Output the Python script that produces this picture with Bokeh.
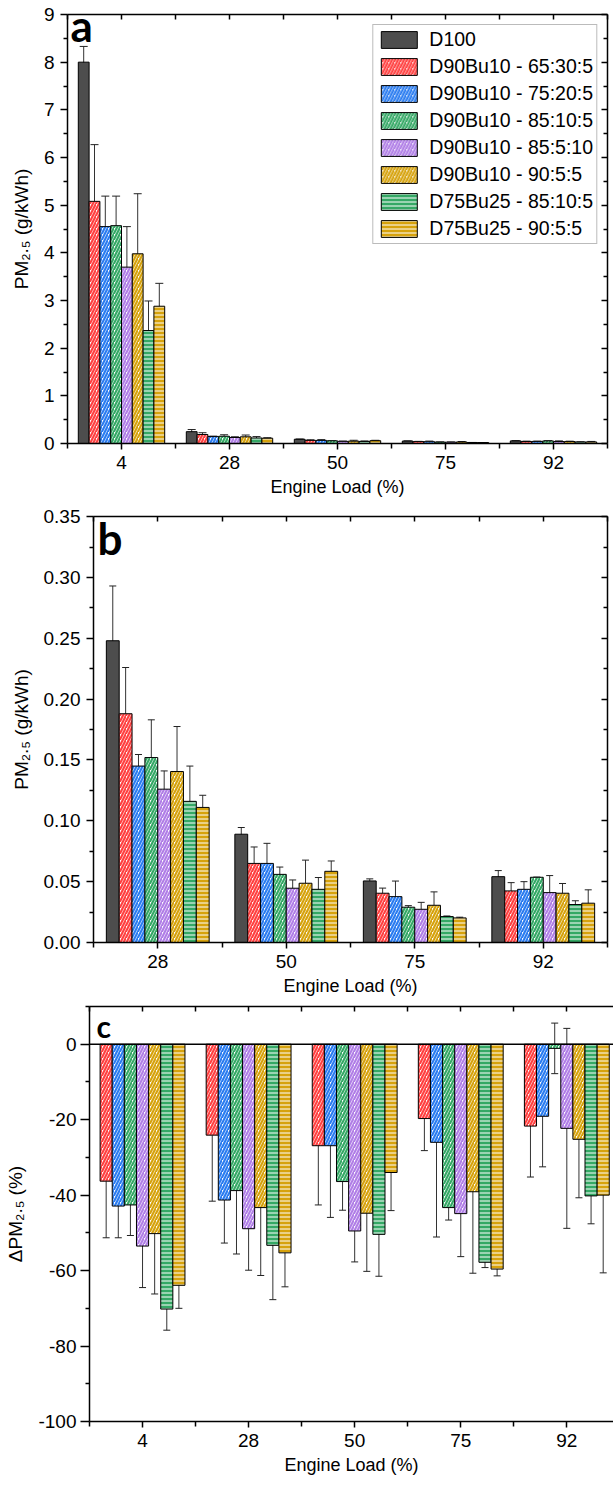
from bokeh.plotting import figure
from bokeh.models import (ColumnDataSource, Whisker, TeeHead, FixedTicker,
                          LinearAxis, Range1d, Label, Span, NumeralTickFormatter)
from bokeh.layouts import column
from bokeh.embed import file_html
from bokeh.resources import INLINE

# ---------------- data ----------------
loads = ["4", "28", "50", "75", "92"]
series = ["D100", "D90Bu10 - 65:30:5", "D90Bu10 - 75:20:5", "D90Bu10 - 85:10:5",
          "D90Bu10 - 85:5:10", "D90Bu10 - 90:5:5", "D75Bu25 - 85:10:5", "D75Bu25 - 90:5:5"]

# PM2.5 (g/kWh) at loads 4, 28, 50, 75, 92
pm_d100 = [8.00, 0.248, 0.089, 0.0506, 0.0541]
pm_d100_err = [0.33, 0.045, 0.0055, 0.0017, 0.005]
pm_65_30_5 = [5.08, 0.188, 0.065, 0.0405, 0.0424]
pm_65_30_5_err = [1.19, 0.038, 0.0135, 0.0042, 0.0068]
pm_75_20_5 = [4.55, 0.145, 0.065, 0.0377, 0.0437]
pm_75_20_5_err = [0.64, 0.0095, 0.0165, 0.0128, 0.0063]
pm_85_10_5 = [4.57, 0.152, 0.056, 0.029, 0.0536]
pm_85_10_5_err = [0.62, 0.031, 0.006, 0.0013, 0.0]
pm_85_5_10 = [3.70, 0.126, 0.0446, 0.0273, 0.041]
pm_85_5_10_err = [0.85, 0.015, 0.0068, 0.0057, 0.014]
pm_90_5_5 = [3.98, 0.1405, 0.0487, 0.0306, 0.0405]
pm_90_5_5_err = [1.26, 0.037, 0.019, 0.011, 0.008]
pm_bu25_85_10_5 = [2.37, 0.116, 0.0437, 0.0213, 0.0312]
pm_bu25_85_10_5_err = [0.62, 0.029, 0.0097, 0.0005, 0.0031]
pm_bu25_90_5_5 = [2.88, 0.111, 0.0585, 0.0202, 0.0323]
pm_bu25_90_5_5_err = [0.48, 0.010, 0.0085, 0.0006, 0.011]

# Delta PM2.5 (%) vs D100
d_65_30_5 = [-36.3, -24.1, -26.9, -19.7, -21.7]
d_65_30_5_err = [15.0, 17.5, 15.7, 8.5, 13.5]
d_75_20_5 = [-42.9, -41.3, -26.9, -26.0, -19.1]
d_75_20_5_err = [8.4, 11.4, 19.0, 25.1, 13.4]
d_85_10_5 = [-42.6, -38.8, -36.4, -43.3, -1.1]
d_85_10_5_err = [8.1, 16.8, 7.6, 3.3, 6.7]
d_85_5_10 = [-53.5, -48.9, -49.5, -44.9, -22.3]
d_85_5_10_err = [11.0, 11.0, 8.2, 11.4, 26.5]
d_90_5_5 = [-50.2, -43.3, -44.8, -39.1, -25.2]
d_90_5_5_err = [16.0, 18.0, 15.4, 21.6, 15.5]
d_bu25_85_10_5 = [-70.2, -53.3, -50.4, -57.8, -40.2]
d_bu25_85_10_5_err = [5.6, 14.4, 11.1, 1.4, 7.4]
d_bu25_90_5_5 = [-63.9, -55.3, -34.0, -59.6, -40.0]
d_bu25_90_5_5_err = [6.1, 9.0, 10.1, 1.8, 20.6]

# axis tick values
ticks_a = [0, 1, 2, 3, 4, 5, 6, 7, 8, 9]
ticks_b = [0.0, 0.05, 0.10, 0.15, 0.20, 0.25, 0.30, 0.35]
ticks_c = [-100, -80, -60, -40, -20, 0]

pm_means = [pm_d100, pm_65_30_5, pm_75_20_5, pm_85_10_5, pm_85_5_10, pm_90_5_5,
            pm_bu25_85_10_5, pm_bu25_90_5_5]
pm_errs = [pm_d100_err, pm_65_30_5_err, pm_75_20_5_err, pm_85_10_5_err, pm_85_5_10_err,
           pm_90_5_5_err, pm_bu25_85_10_5_err, pm_bu25_90_5_5_err]
d_means = [d_65_30_5, d_75_20_5, d_85_10_5, d_85_5_10, d_90_5_5, d_bu25_85_10_5, d_bu25_90_5_5]
d_errs = [d_65_30_5_err, d_75_20_5_err, d_85_10_5_err, d_85_5_10_err, d_90_5_5_err,
          d_bu25_85_10_5_err, d_bu25_90_5_5_err]

# ---------------- style ----------------
colors = ["#4d4d4d", "#ff4040", "#2a7cf0", "#34a865", "#b07ee6", "#d6a20c", "#34a865", "#d6a20c"]
hatches = [None, "/", "/", "/", "/", "/", "-", "-"]
FONT = "Liberation Sans"
FS = "19px"


def minors(t):
    step = t[1] - t[0]
    return [round(v + step / 2, 6) for v in t[:-1]] + [round(t[-1] + step / 2, 6)]


def hidden_axis(ticker, tin, tin_minor):
    return LinearAxis(ticker=ticker, major_label_text_font_size="1px", major_label_text_color=None,
                      major_label_standoff=0,
                      major_tick_in=tin, major_tick_out=0, minor_tick_in=tin_minor, minor_tick_out=0,
                      axis_line_width=1.5, major_tick_line_width=1.5, minor_tick_line_width=1.5)


def style_axes(p, xticks, xminor, ylab, yt, yfmt, right=True, xlabels=None):
    p.xgrid.visible = False
    p.ygrid.visible = False
    xa = p.xaxis[0]
    xa.ticker = FixedTicker(ticks=xticks, minor_ticks=xminor)
    xa.major_label_overrides = xlabels
    xa.axis_label = "Engine Load (%)"
    ya = p.yaxis[0]
    ya.ticker = FixedTicker(ticks=yt, minor_ticks=minors(yt))
    ya.axis_label = ylab
    ya.formatter = NumeralTickFormatter(format=yfmt)
    for ax in (xa, ya):
        ax.axis_line_width = 1.5
        ax.major_tick_line_width = 1.5
        ax.minor_tick_line_width = 1.5
        ax.major_tick_in = 0
        ax.minor_tick_in = 0
        ax.major_label_text_font = FONT
        ax.major_label_text_font_size = FS
        ax.major_label_text_color = "black"
        ax.axis_label_text_font = FONT
        ax.axis_label_text_font_size = "18px"
        ax.axis_label_text_font_style = "normal"
        ax.axis_label_text_color = "black"
    xa.major_tick_out = 6
    xa.minor_tick_out = 5
    xa.major_label_standoff = 6
    xa.axis_label_standoff = 5
    ya.major_tick_out = 7
    ya.minor_tick_out = 4
    ya.major_label_standoff = 6
    ya.axis_label_standoff = 9
    ya.axis_label_text_font_size = "19px"
    p.add_layout(hidden_axis(FixedTicker(ticks=xticks, minor_ticks=xminor), 5, 5), "above")
    if right:
        p.add_layout(hidden_axis(FixedTicker(ticks=yt, minor_ticks=minors(yt)), 6, 4), "right")


def bars(p, xs, means, errs, offs, width, legend=None, cap=7):
    for i, (m, e) in enumerate(zip(means, errs)):
        ci = offs[i][0]
        x = [v + offs[i][1] for v in xs]
        src = ColumnDataSource(dict(x=x, top=m, upper=[a + b for a, b in zip(m, e)],
                                    lower=[a - b for a, b in zip(m, e)]))
        kw = dict(x="x", top="top", bottom=0, width=width, source=src,
                  fill_color=colors[ci], line_color="black", line_width=1)
        if hatches[ci] == "/":
            kw.update(fill_color="white", hatch_pattern="/", hatch_color=colors[ci],
                      hatch_weight=2.2, hatch_scale=6)
        elif hatches[ci] == "-":
            kw.update(hatch_pattern="-", hatch_color="white", hatch_weight=1.0, hatch_scale=4)
        if legend is not None:
            kw["legend_label"] = series[ci]
        p.vbar(**kw)
        w = Whisker(source=src, base="x", upper="upper", lower="lower", dimension="height",
                    line_color="#333333", line_width=1,
                    upper_head=TeeHead(size=cap, line_color="#222222", line_width=1),
                    lower_head=TeeHead(size=cap, line_color="#222222", line_width=1))
        p.add_layout(w)


def panel_label(p, txt, x, y, dx, dy, size):
    p.add_layout(Label(x=x, y=y, x_offset=dx, y_offset=dy, text=txt, text_font="Lato",
                       text_font_style="bold", text_font_size=size, text_color="black",
                       text_baseline="alphabetic", text_align="left"))


W8 = 0.1
offs8 = [(i, -0.35 + i * W8) for i in range(8)]
xs_all = [1, 2, 3, 4, 5]
minor5 = [0.5, 1.5, 2.5, 3.5, 4.5, 5.5]
lab5 = {i + 1: loads[i] for i in range(5)}

# ---------- panel a ----------
pa = figure(width=613, height=500, output_backend="svg", toolbar_location=None,
            x_range=Range1d(0.5, 5.5), y_range=Range1d(0, 9), frame_align=False,
            min_border_left=67, min_border_right=6, min_border_top=14, min_border_bottom=57)
pa.outline_line_color = None
style_axes(pa, xs_all, minor5, "PM\u2082.\u2085 (g/kWh)", ticks_a, "0", xlabels=lab5)
bars(pa, xs_all, pm_means, pm_errs, offs8, W8, legend=True, cap=8)
lg = pa.legend[0]
lg.location = "top_right"
lg.margin = 10
lg.padding = 3
lg.spacing = 4
lg.glyph_width = 45
lg.glyph_height = 21
lg.label_height = 21
lg.label_standoff = 8
lg.label_text_font = FONT
lg.label_text_font_size = "19.5px"
lg.label_text_color = "black"
lg.border_line_color = "#777777"
lg.border_line_width = 1
lg.background_fill_alpha = 1
panel_label(pa, "a", 0.5, 9, 3, -10, "44px")

# ---------- panel b ----------
xs_b = [1, 2, 3, 4]
minor4 = [0.5, 1.5, 2.5, 3.5, 4.5]
lab4 = {i + 1: loads[i + 1] for i in range(4)}
pb = figure(width=613, height=498, output_backend="svg", toolbar_location=None,
            x_range=Range1d(0.5, 4.5), y_range=Range1d(0, 0.3501), frame_align=False,
            min_border_left=93, min_border_right=6, min_border_top=16, min_border_bottom=55)
pb.outline_line_color = None
style_axes(pb, xs_b, minor4, "PM\u2082.\u2085 (g/kWh)", ticks_b, "0.00", xlabels=lab4)
bars(pb, xs_b, [m[1:] for m in pm_means], [e[1:] for e in pm_errs], offs8, W8, cap=7)
panel_label(pb, "b", 0.5, 0.35, 4, -21, "44px")

# ---------- panel c ----------
W7 = 0.8 / 7
offs7 = [(i + 1, -0.4 + (i + 0.5) * W7) for i in range(7)]
pc = figure(width=613, height=503, output_backend="svg", toolbar_location=None,
            x_range=Range1d(0.5, 5.44), y_range=Range1d(-100, 10), frame_align=False,
            min_border_left=89, min_border_right=0, min_border_top=8, min_border_bottom=80)
pc.outline_line_color = None
style_axes(pc, xs_all, minor5, "\u0394PM\u2082.\u2085 (%)", ticks_c, "0", right=False, xlabels=lab5)
pc.yaxis[0].major_tick_out = 9
pc.yaxis[0].major_label_standoff = 4
bars(pc, xs_all, d_means, d_errs, offs7, W7, cap=7)
pc.add_layout(Span(location=0, dimension="width", line_color="black", line_width=1.5))
panel_label(pc, "c", 0.5, 10, 7, -19, "30px")

layout = column(pa, pb, pc)
open("out.html", "w").write(file_html(layout, INLINE))
